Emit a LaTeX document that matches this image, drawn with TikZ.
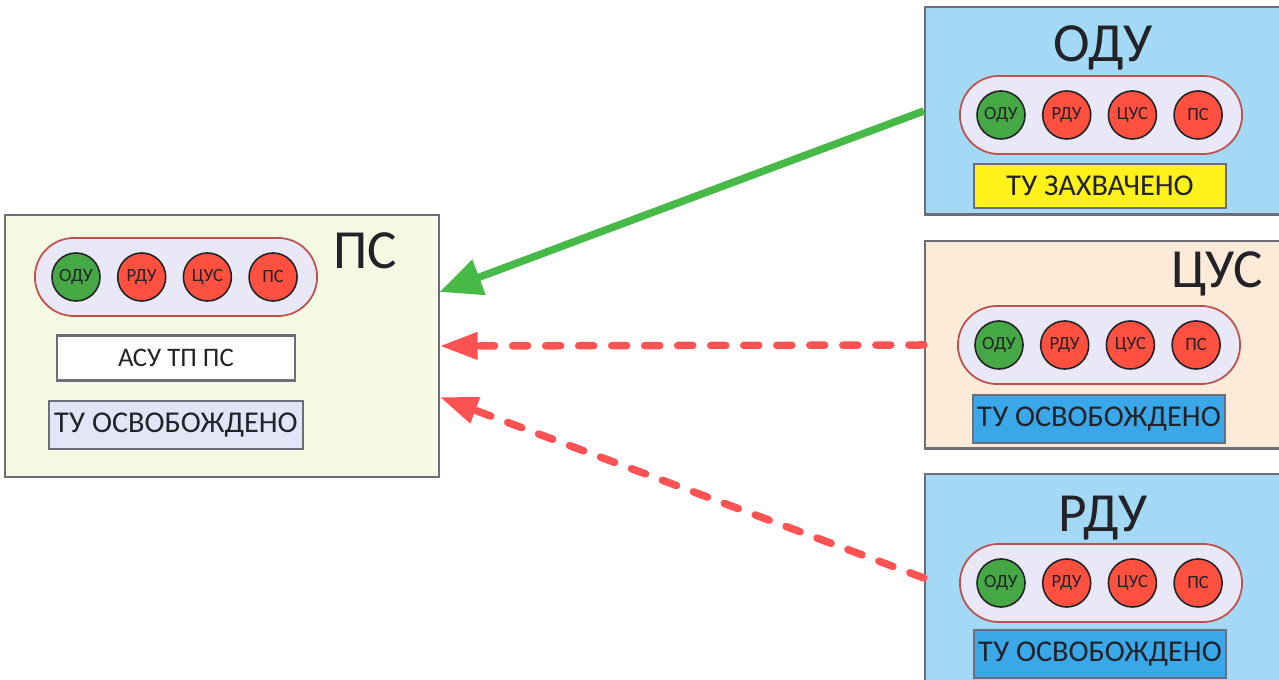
\documentclass[tikz,border=0pt]{standalone}
\usepackage{fontspec}
\setmainfont{Carlito}
\usetikzlibrary{arrows.meta}

\definecolor{psback}{HTML}{F4F9E4}
\definecolor{skyback}{HTML}{A4D9F5}
\definecolor{peachback}{HTML}{FCEBD8}
\definecolor{boxline}{HTML}{6E6E7A}
\definecolor{barfill}{HTML}{E8E8F6}
\definecolor{barline}{HTML}{C0504D}
\definecolor{lampgreen}{HTML}{45A845}
\definecolor{lampred}{HTML}{FF5040}
\definecolor{linkgreen}{HTML}{46B946}
\definecolor{linkred}{HTML}{FF5252}
\definecolor{stateblue}{HTML}{3AA8E8}
\definecolor{stateyellow}{HTML}{FFF21A}
\definecolor{statepale}{HTML}{E1E5F5}
\definecolor{ink}{HTML}{222228}

\tikzset{
    area/.style={draw=boxline, line width=0.6pt, inner sep=0pt},
    bar/.style={draw=barline, fill=barfill, line width=0.5pt,
        minimum width=2.82cm, minimum height=0.78cm, rounded corners=0.39cm},
    lamp/.style={circle, draw=ink, line width=0.45pt, minimum size=0.48cm,
        inner sep=0pt, text=ink, font=\fontsize{5.3}{6}\selectfont},
    state/.style={draw=boxline, line width=0.6pt, text=ink, inner xsep=0.5pt,
        font=\fontsize{8.6}{10}\selectfont},
    title/.style={text=ink, font=\fontsize{15.7}{18}\selectfont},
    link/.style={line width=0.075cm},
}

\begin{document}
\begin{tikzpicture}[x=0.01cm, y=-0.01cm]
    \useasboundingbox (0,0) rectangle (1279,680);

    % the substation and the three control centres
    \node[area, fill=psback, minimum width=4.33cm, minimum height=2.62cm] (ps) at (222,346) {};
    \node[area, fill=skyback, minimum width=3.6cm, minimum height=2.07cm] (odu) at (1105,111) {};
    \node[area, fill=peachback, minimum width=3.6cm, minimum height=2.07cm] (cus) at (1105,345) {};
    \node[area, fill=skyback, minimum width=3.6cm, minimum height=2.07cm] (rdu) at (1105,578) {};

    \node[title] (ps-name) at (365,251) {ПС};
    \node[title] (odu-name) at (1103,48) {ОДУ};
    \node[title] (cus-name) at (1217,274) {ЦУС};
    \node[title] (rdu-name) at (1103,518) {РДУ};

    % lamp bars
    \foreach \nm/\bx/\by in {ps/176/277, odu/1101/115, cus/1099/345, rdu/1101/583} {
        \node[bar] (\nm-bar) at (\bx,\by) {};
        \foreach \lbl/\col [count=\k] in {ОДУ/lampgreen, РДУ/lampred, ЦУС/lampred, ПС/lampred} {
            \node[lamp, fill=\col] (\nm-lamp\k) at ({\bx-100+65.7*(\k-1)},\by) {\lbl};
        }
    }

    % status fields
    \node[state, fill=white, minimum width=2.37cm, minimum height=0.45cm,
        font=\fontsize{7.6}{9}\selectfont] (ps-asu) at (176,358) {АСУ ТП ПС};
    \node[state, fill=statepale, minimum width=2.53cm, minimum height=0.45cm] (ps-state) at (176,425) {ТУ ОСВОБОЖДЕНО};
    \node[state, fill=stateyellow, minimum width=2.51cm, minimum height=0.44cm] (odu-state) at (1100,186) {ТУ ЗАХВАЧЕНО};
    \node[state, fill=stateblue, minimum width=2.52cm, minimum height=0.45cm] (cus-state) at (1099,419) {ТУ ОСВОБОЖДЕНО};
    \node[state, fill=stateblue, minimum width=2.52cm, minimum height=0.43cm] (rdu-state) at (1100,654) {ТУ ОСВОБОЖДЕНО};

    % control links
    \draw[link, linkgreen, -{Triangle[length=0.42cm, width=0.36cm]}]
        (odu.west) -- ([yshift=0.54cm]ps.east);
    \draw[link, linkred, line cap=round, dash pattern=on 0.15cm off 0.18cm,
        -{Triangle[length=0.38cm, width=0.26cm]}] (cus.west) -- (ps.east);
    \draw[link, linkred, line cap=round, dash pattern=on 0.15cm off 0.18cm,
        -{Triangle[length=0.38cm, width=0.26cm]}] (rdu.west) -- ([yshift=-0.51cm]ps.east);
\end{tikzpicture}
\end{document}
